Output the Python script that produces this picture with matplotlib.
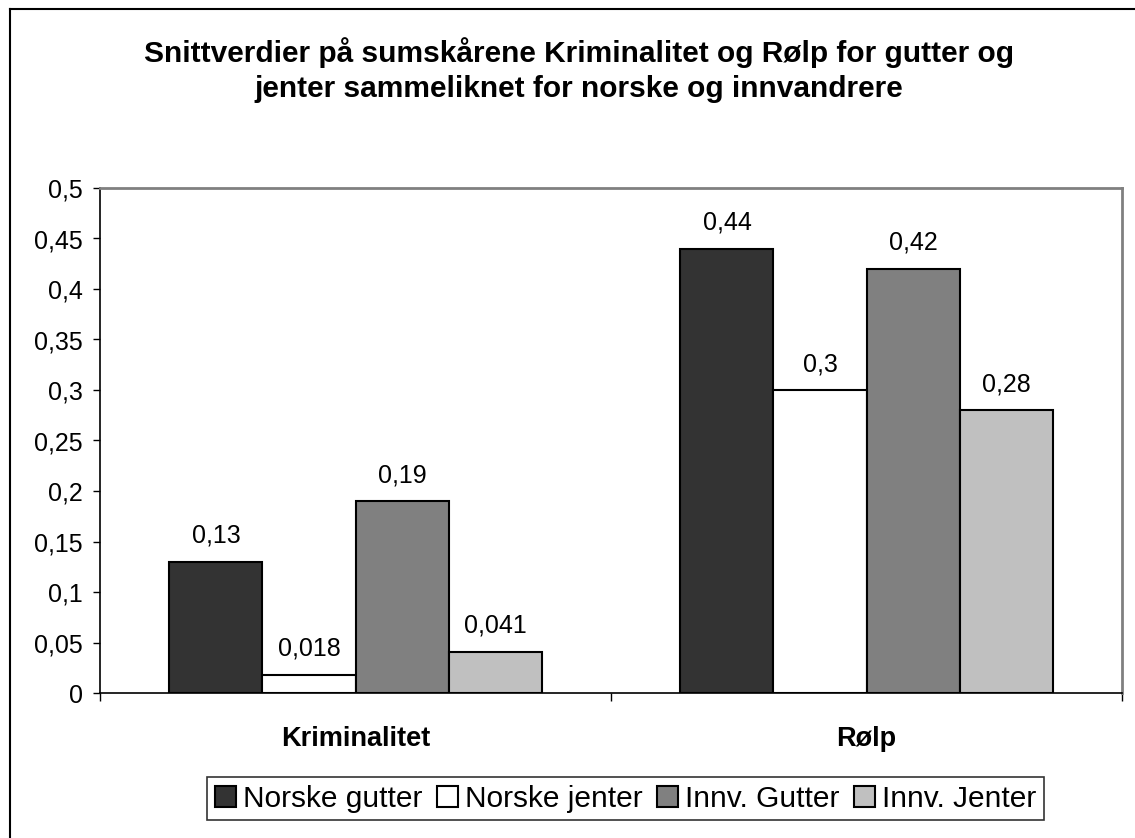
import matplotlib
matplotlib.use("Agg")
import matplotlib.pyplot as plt
import numpy as np
from matplotlib.lines import Line2D

plt.rcParams['font.family'] = ['Liberation Sans', 'DejaVu Sans']

categories = ["Kriminalitet", "Rølp"]
series_names = ["Norske gutter", "Norske jenter", "Innv. Gutter", "Innv. Jenter"]
norske_gutter = [0.13, 0.44]
norske_jenter = [0.018, 0.30]
innv_gutter = [0.19, 0.42]
innv_jenter = [0.041, 0.28]
label_texts = [["0,13", "0,44"], ["0,018", "0,3"], ["0,19", "0,42"], ["0,041", "0,28"]]
yticks = [0, 0.05, 0.1, 0.15, 0.2, 0.25, 0.3, 0.35, 0.4, 0.45, 0.5]
ytick_labels = ["0", "0,05", "0,1", "0,15", "0,2", "0,25", "0,3", "0,35", "0,4", "0,45", "0,5"]
title = "Snittverdier på sumskårene Kriminalitet og Rølp for gutter og\njenter sammeliknet for norske og innvandrere"

colors = ["#333333", "#FFFFFF", "#808080", "#C0C0C0"]
series = [norske_gutter, norske_jenter, innv_gutter, innv_jenter]

W, H = 1135, 838
fig = plt.figure(figsize=(W/100, H/100), dpi=100)
ax = fig.add_axes([100/W, 1-693/H, (1122-100)/W, (693-188)/H])

x = np.arange(len(categories))
bw = 0.182
for i, (vals, c) in enumerate(zip(series, colors)):
    pos = x + (i - 1.5) * bw
    bars = ax.bar(pos, vals, width=bw, color=c, edgecolor="black", linewidth=1.5,
                  label=series_names[i], zorder=3)
    for b, v, t in zip(bars, vals, label_texts[i]):
        ax.annotate(t, (b.get_x() + b.get_width()/2, v), xytext=(0, 10),
                    textcoords="offset points", ha="center", va="bottom", fontsize=18)

ax.set_xlim(-0.5, 1.5)
ax.set_ylim(0, 0.5)
ax.set_yticks(yticks)
ax.set_yticklabels(ytick_labels, fontsize=18)
ax.tick_params(axis='y', direction='out', length=5, width=1, pad=7.5)
ax.set_xticks([-0.5, 0.5, 1.5])
ax.set_xticklabels([])
ax.tick_params(axis='x', which='major', direction='out', length=5.5, width=1)
ax.set_xticks(x, minor=True)
ax.set_xticklabels(categories, minor=True, fontsize=19.5, fontweight='bold')
ax.tick_params(axis='x', which='minor', length=0, pad=24)

for s in ['left', 'bottom']:
    ax.spines[s].set_color('black')
    ax.spines[s].set_linewidth(1.2)
for s in ['top', 'right']:
    ax.spines[s].set_color('#808080')
    ax.spines[s].set_linewidth(2)

fig.text(579/W, 1-70/H, title, ha='center', va='center', fontsize=21.5,
         fontweight='bold', linespacing=1.32)

leg = ax.legend(loc='center', bbox_to_anchor=(625.5/W, 1-798.5/H), bbox_transform=fig.transFigure,
                ncol=4, fontsize=21.5, frameon=True, fancybox=False, edgecolor='black',
                handlelength=0.7, handleheight=0.7, handletextpad=0.23, columnspacing=0.5,
                borderpad=0.25, borderaxespad=0)
leg.get_frame().set_linewidth(1.2)

fig.add_artist(Line2D([10/W, 10/W], [0, 1-9.5/H], transform=fig.transFigure, color='black', lw=1.5))
fig.add_artist(Line2D([10/W, 1], [1-9.5/H, 1-9.5/H], transform=fig.transFigure, color='black', lw=1.5))

fig.savefig("out.png", dpi=100)
